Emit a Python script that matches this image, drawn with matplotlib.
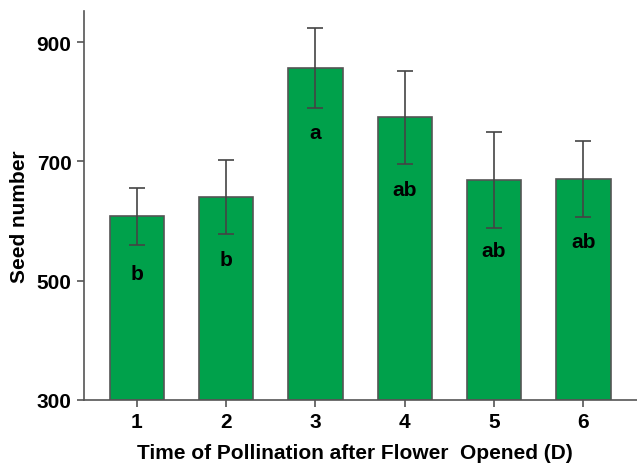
import matplotlib
matplotlib.use("Agg")
import matplotlib.pyplot as plt

days = [1, 2, 3, 4, 5, 6]
seed_mean = [608, 641, 856, 774, 669, 670]
seed_err = [48, 62, 67, 78, 80, 64]
letters = ["b", "b", "a", "ab", "ab", "ab"]
letter_y = [512, 536, 749, 653, 551, 566]
yticks = [300, 500, 700, 900]

plt.rcParams['font.family'] = ['Liberation Sans', 'DejaVu Sans']

fig = plt.figure(figsize=(6.37, 4.64), dpi=100)
ax = fig.add_axes([0.132, 0.136, 0.868, 0.838])

ax.bar(days, [m - 300 for m in seed_mean], bottom=300, width=0.61,
       color="#00A14B", edgecolor="#555555", linewidth=1.2, zorder=2)
ax.errorbar(days, seed_mean, yerr=seed_err, fmt="none", ecolor="#444444",
            elinewidth=1.2, capsize=6, capthick=1.2, zorder=3)
for d, l, y in zip(days, letters, letter_y):
    ax.text(d, y, l, ha="center", va="center", fontsize=15, fontweight="bold",
            color="black", zorder=4)

ax.set_xlim(0.41, 6.6)
ax.set_ylim(300, 952)
ax.set_yticks(yticks)
ax.set_xticks(days)
ax.set_yticklabels([str(t) for t in yticks], fontsize=15, fontweight="bold")
ax.set_xticklabels([str(d) for d in days], fontsize=15, fontweight="bold")
ax.set_ylabel("Seed number", fontsize=15, fontweight="bold")
ax.yaxis.set_label_coords(-0.1, 0.475)
ax.set_xlabel("Time of Pollination after Flower  Opened (D)", fontsize=15,
              fontweight="bold")
ax.xaxis.set_label_coords(0.49, -0.11)

for s in ["top", "right"]:
    ax.spines[s].set_visible(False)
for s in ["left", "bottom"]:
    ax.spines[s].set_color("#555555")
    ax.spines[s].set_linewidth(1.2)
ax.tick_params(axis="both", direction="out", length=5, width=1.2, color="#555555", pad=4)

fig.savefig("out.png", dpi=100)
